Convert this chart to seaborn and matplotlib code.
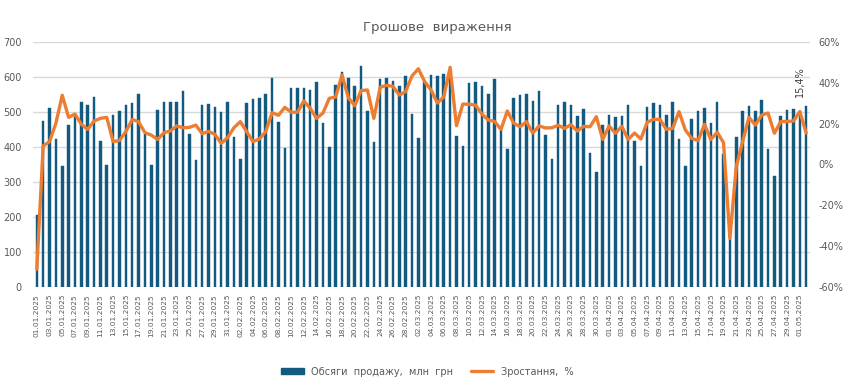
import numpy as np
import pandas as pd
import seaborn as sns
import matplotlib
matplotlib.use("Agg")
import matplotlib.pyplot as plt
from matplotlib.patches import Patch
from matplotlib.lines import Line2D

# daily values 01.01.2025 - 02.05.2025
sales = [205, 475, 511, 422, 345, 463, 489, 530, 521, 543, 417, 348, 491, 504, 521, 526, 552, 438, 350, 507, 529,
         530, 529, 560, 437, 362, 521, 523, 514, 499, 529, 429, 367, 526, 538, 540, 552, 596, 472, 397, 570,
         570, 570, 562, 586, 470, 400, 576, 615, 596, 573, 631, 504, 414, 593, 598, 589, 574, 603, 494, 427, 586,
         606, 603, 610, 608, 431, 403, 584, 586, 574, 552, 594, 448, 393, 541, 550, 552, 531, 560, 435, 365,
         519, 529, 521, 489, 509, 382, 329, 464, 491, 485, 488, 519, 417, 345, 514, 526, 521, 491, 530, 424, 345,
         480, 502, 511, 470, 529, 381, 145, 430, 504, 516, 504, 533, 395, 318, 488, 506, 509, 504, 517]
growth = [-51.3, 9.1, 11.2, 20.2, 33.9, 23.1, 24.7, 19.7, 17.2, 21.3, 22.6, 23.1, 11.2, 11.8, 16.1, 22.0, 21.0, 15.6, 14.4, 12.3, 15.6,
          16.4, 18.9, 18.0, 18.2, 19.3, 15.1, 16.2, 14.8, 10.4, 13.1, 18.0, 21.0, 16.1, 11.2, 12.5, 16.1, 25.4, 24.1, 28.0, 25.6,
          25.6, 31.1, 27.5, 22.6, 25.2, 32.4, 33.1, 43.8, 32.7, 28.8, 36.2, 36.5, 22.6, 37.8, 38.8, 38.3, 34.0, 35.7, 43.3, 46.9, 40.6,
          36.5, 30.1, 33.1, 47.6, 19.0, 29.6, 29.5, 29.1, 24.7, 21.8, 21.1, 17.2, 26.2, 20.2, 18.5, 21.0, 15.4, 18.9, 17.9, 18.0,
          19.2, 17.7, 19.5, 16.4, 18.7, 18.5, 23.4, 12.3, 18.9, 15.3, 18.7, 12.3, 15.4, 12.5, 20.7, 22.1, 22.1, 17.2, 17.7, 25.9, 16.9,
          12.8, 11.7, 19.7, 12.2, 15.8, 10.7, -36.2, -1.1, 11.2, 23.1, 19.3, 24.2, 25.2, 15.3, 21.0, 21.1, 21.3, 25.9, 15.4]
dates = pd.date_range("2025-01-01", periods=len(sales), freq="D").strftime("%d.%m.%Y").tolist()
last_label = "15,4%"

df = pd.DataFrame({"date": dates, "sales": sales, "growth": growth, "pos": np.arange(len(sales))})

bar_c = "#135a80"
line_c = "#ed7d31"
txt_c = "#595959"

sns.set_style("white")
plt.rcParams["font.family"] = ["DejaVu Sans"]

fig = plt.figure(figsize=(8.5, 3.87), dpi=100)
ax = fig.add_axes([33 / 850, 1 - 287 / 387, 777 / 850, 245 / 387])

sns.barplot(data=df, x="date", y="sales", color=bar_c, width=0.4, saturation=1,
            edgecolor=bar_c, linewidth=0.3, ax=ax)
ax.set_ylim(0, 700)
ax.set_yticks(range(0, 701, 100))
ax.set_xlim(-0.6, len(sales) - 0.4)
ax.yaxis.grid(True, color="#d9d9d9", lw=1)
ax.set_axisbelow(True)
ax.set_xlabel("")
ax.set_ylabel("")
ax.set_xticks(range(0, len(dates), 2))
ax.set_xticklabels(dates[::2], rotation=90, fontsize=5.4, color=txt_c)
ax.tick_params(axis="y", labelsize=7, colors=txt_c, length=0, pad=8)
ax.tick_params(axis="x", length=0, pad=5)
for s in ax.spines.values():
    s.set_visible(False)

ax2 = ax.twinx()
sns.lineplot(data=df, x="pos", y="growth", color=line_c, lw=2.4, ax=ax2)
ax2.set_ylim(-60, 60)
ax2.set_yticks(range(-60, 61, 20))
ax2.set_yticklabels([f"{v}%" for v in range(-60, 61, 20)])
ax2.tick_params(axis="y", labelsize=7, colors=txt_c, length=0, pad=6)
ax2.set_ylabel("")
ax2.set_xlabel("")
for s in ax2.spines.values():
    s.set_visible(False)

ax2.annotate(last_label, (df["pos"].iloc[-2], df["growth"].iloc[-1]), xytext=(0, 26),
             textcoords="offset points", rotation=90, ha="center", va="bottom",
             fontsize=7, color="#404040")

fig.text(0.514, 0.928, "Грошове  вираження", ha="center", va="center", fontsize=9.5, color=txt_c)

handles = [Patch(color=bar_c), Line2D([0], [0], color=line_c, lw=2.4)]
fig.legend(handles, ["Обсяги  продажу,  млн  грн", "Зростання,  %"], loc="center",
           bbox_to_anchor=(0.503, 0.04), ncol=2, frameon=False, fontsize=7,
           handlelength=2.3, handleheight=0.45, columnspacing=1.8, labelcolor=txt_c)

fig.savefig("out.png", dpi=100)
